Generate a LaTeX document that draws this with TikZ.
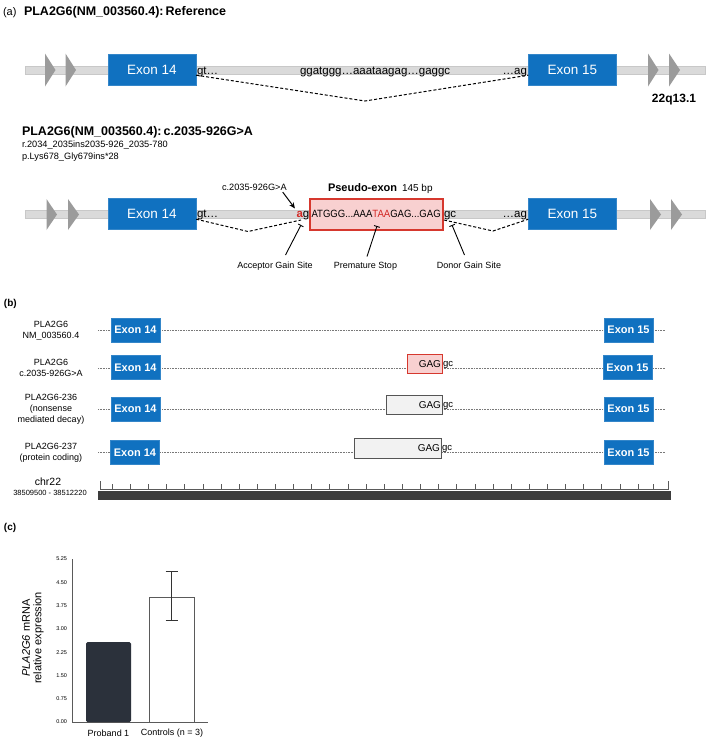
\documentclass[tikz,border=0pt]{standalone}
\usepackage{fontspec}
\setmainfont{Liberation Sans}
\usetikzlibrary{arrows.meta,calc}
\definecolor{exonblue}{RGB}{16,113,192}
\definecolor{bargray}{RGB}{218,218,218}
\definecolor{baredge}{RGB}{200,200,200}
\definecolor{trigray}{RGB}{155,155,155}
\definecolor{pinkfill}{RGB}{248,208,208}
\definecolor{redline}{RGB}{214,56,46}
\definecolor{redtext}{RGB}{210,40,36}
\definecolor{boxgray}{RGB}{242,242,242}
\definecolor{boxedge}{RGB}{85,85,85}
\definecolor{dotgray}{RGB}{120,120,120}
\definecolor{rulergray}{RGB}{90,90,90}
\definecolor{chrdark}{RGB}{60,60,60}
\definecolor{bardark}{RGB}{43,49,59}
\newcommand{\fz}[2]{\fontsize{#1}{#2}\selectfont}
\begin{document}
\begin{tikzpicture}[x=1pt,y=-1pt,
  txt/.style={inner sep=0pt,outer sep=0pt},
  exA/.style={fill=exonblue,draw=exonblue!85!white,text=white,minimum width=88pt,minimum height=31pt,inner sep=0pt,font=\fz{13.5}{16}},
  exB/.style={fill=exonblue,draw=exonblue!85!white,text=white,minimum width=49pt,minimum height=24pt,inner sep=0pt,font=\bfseries\fz{11}{13}},
  splice/.style={densely dashed,line width=1pt,dash pattern=on 3pt off 2pt},
  pinline/.style={line width=0.9pt,-{Bar[width=6pt,line width=0.9pt]}},
  mutarrow/.style={line width=1pt,-{Stealth[length=6pt,width=5pt]}},
  dotline/.style={dotgray,line width=0.9pt,dash pattern=on 0.8pt off 0.8pt},
  rowlbl/.style={txt,align=center,font=\fz{9}{11}},
  sitelbl/.style={txt,anchor=base,font=\fz{9}{11}},
  pbox/.style={inner sep=0pt,line width=1pt},
  tick/.style={rulergray,line width=0.8pt}
]
\useasboundingbox (0,0) rectangle (709,742);

% ================= Panel (a) top =================
\node[txt,anchor=base west,font=\fz{11}{13}] (lblA) at (3,15) {(a)};
\node[txt,anchor=base west,font=\bfseries\fz{12.5}{15}] (titleA) at (24,15) {PLA2G6(NM\_003560.4):\,Reference};

\fill[bargray] (25,66) rectangle (705,74);
\draw[baredge,line width=0.4pt] (25,66) rectangle (705,74);
\fill[trigray] (45,53.5) -- (55.5,70) -- (45,86.5) -- cycle;
\fill[trigray] (65.5,53.5) -- (76,70) -- (65.5,86.5) -- cycle;
\fill[trigray] (648,53.5) -- (658.5,70) -- (648,86.5) -- cycle;
\fill[trigray] (669,53.5) -- (680,70) -- (669,86.5) -- cycle;

\node[exA] (e14a) at (152,69.5) {Exon 14};
\node[exA] (e15a) at (572.5,69.5) {Exon 15};
\node[txt,anchor=base west,font=\fz{11.5}{14}] (gtA) at (197,74) {gt…};
\node[txt,anchor=base west,font=\fz{11.5}{14}] (seqA) at (300,74) {ggatggg…aaataagag…gaggc};
\node[txt,anchor=base east,font=\fz{11.5}{14}] (agA) at (527,74) {…ag};
\coordinate (vA) at (365,101);
\draw[splice] ($(e14a.south east)+(0,-10)$) -- (vA) -- ($(e15a.south west)+(0,-10)$);
\node[txt,anchor=base,font=\bfseries\fz{12}{14}] (locA) at (674,102.5) {22q13.1};

% ================= Panel (a) bottom =================
\node[txt,anchor=base west,font=\bfseries\fz{12.5}{15}] (titleB) at (22,135) {PLA2G6(NM\_003560.4):\,c.2035-926G>A};
\node[txt,anchor=base west,font=\fz{9.2}{10}] (rnaB) at (22,147.5) {r.2034\_2035ins2035-926\_2035-780};
\node[txt,anchor=base west,font=\fz{9.2}{10}] (protB) at (22,159.5) {p.Lys678\_Gly679ins*28};

\fill[bargray] (25,210) rectangle (705,218);
\draw[baredge,line width=0.4pt] (25,210) rectangle (705,218);
\fill[trigray] (46.5,199) -- (57,214.5) -- (46.5,230) -- cycle;
\fill[trigray] (68,199) -- (79,214.5) -- (68,230) -- cycle;
\fill[trigray] (650,199) -- (661,214.5) -- (650,230) -- cycle;
\fill[trigray] (671,199) -- (682,214.5) -- (671,230) -- cycle;

\node[exA] (e14b) at (152,213.5) {Exon 14};
\node[exA] (e15b) at (572.5,213.5) {Exon 15};
\node[pbox,draw=redline,fill=pinkfill,minimum width=133pt,minimum height=31pt,line width=1.2pt] (pse) at (376.5,214.5) {};
\node[txt,anchor=base west,font=\fz{11.5}{14}] (gtB) at (197,217.5) {gt…};
\node[txt,anchor=base west,font=\fz{11.5}{14}] (agSite) at (296.5,217.5) {\textcolor{redtext}{\textbf{a}}g};
\node[txt,anchor=base west,font=\fz{10.5}{12}] (pseTxt) at (311.5,217.5) {\scalebox{0.91}[1]{ATGGG...AAA\textcolor{redtext}{TAA}GAG...GAG}};
\node[txt,anchor=base west,font=\fz{11.5}{14}] (gcB) at (444,217.5) {gc};
\node[txt,anchor=base east,font=\fz{11.5}{14}] (agB) at (527,217.5) {…ag};
\node[txt,anchor=base west,font=\bfseries\fz{11}{13}] (pseLbl) at (328,191) {Pseudo-exon};
\node[txt,anchor=base west,font=\fz{10}{12}] (pseLen) at (402,191) {145 bp};
\node[txt,anchor=base west,font=\fz{9.2}{11}] (mutLbl) at (222,190) {c.2035-926G>A};
\coordinate (mutTip) at (295,208.5);
\draw[mutarrow] ([xshift=-4pt,yshift=-2pt]mutLbl.south east) -- (mutTip);

\coordinate (vB1) at (248,231.5);
\coordinate (accEnd) at (301,220);
\coordinate (donStart) at (444,220);
\coordinate (vB2) at (493,231);
\draw[splice] ($(e14b.south east)+(0,-10)$) -- (vB1) -- (accEnd);
\draw[splice] (donStart) -- (vB2) -- ($(e15b.south west)+(0,-10)$);

\node[sitelbl] (accLbl) at (275,268.3) {Acceptor Gain Site};
\node[sitelbl] (stopLbl) at (365.5,268.3) {Premature Stop};
\node[sitelbl] (donLbl) at (469,268.3) {Donor Gain Site};
\coordinate (accS) at (285.5,255);
\coordinate (accT) at (301,225);
\coordinate (stopS) at (367,256.5);
\coordinate (stopT) at (377,226);
\coordinate (donS) at (464.5,255);
\coordinate (donT) at (452,225);
\draw[pinline] (accS) -- (accT);
\draw[pinline] (stopS) -- (stopT);
\draw[pinline] (donS) -- (donT);

% ================= Panel (b) =================
\node[txt,anchor=base west,font=\bfseries\fz{10}{12}] (lblB) at (4,306.5) {(b)};

\foreach \yy in {330.7,368.7,409.3,452.7}{
  \draw[dotline] (98,\yy) -- (665,\yy);
}
\node[rowlbl] (r1) at (51,330.5) {PLA2G6\\NM\_003560.4};
\node[rowlbl] (r2) at (51,367.5) {PLA2G6\\c.2035-926G>A};
\node[rowlbl] (r3) at (51,409) {PLA2G6-236\\(nonsense\\mediated decay)};
\node[rowlbl] (r4) at (51,452.5) {PLA2G6-237\\(protein coding)};

\node[exB] (b14a) at (135.5,330) {Exon 14};
\node[exB] (b15a) at (628.5,330) {Exon 15};
\node[exB] (b14b) at (135.5,367.5) {Exon 14};
\node[exB] (b15b) at (627.5,367.5) {Exon 15};
\node[exB] (b14c) at (135.5,409) {Exon 14};
\node[exB] (b15c) at (628.5,409) {Exon 15};
\node[exB] (b14d) at (135,452.5) {Exon 14};
\node[exB] (b15d) at (628.5,452.5) {Exon 15};

\node[pbox,draw=redline,fill=pinkfill,minimum width=35pt,minimum height=19pt] (pb2) at (424.5,363.5) {};
\node[pbox,draw=boxedge,fill=boxgray,minimum width=56pt,minimum height=19pt] (pb3) at (414,404.5) {};
\node[pbox,draw=boxedge,fill=boxgray,minimum width=87pt,minimum height=20pt] (pb4) at (397.5,448) {};
\node[txt,anchor=base east,font=\fz{10}{12}] (g2) at (441,367.5) {GAG};
\node[txt,anchor=base east,font=\fz{10}{12}] (g3) at (441,408.5) {GAG};
\node[txt,anchor=base east,font=\fz{10}{12}] (g4) at (440,451.5) {GAG};
\node[txt,anchor=base west,font=\fz{9.5}{11}] (c2) at (443,366) {gc};
\node[txt,anchor=base west,font=\fz{9.5}{11}] (c3) at (443,407) {gc};
\node[txt,anchor=base west,font=\fz{9.5}{11}] (c4) at (442,450) {gc};

\node[txt,font=\fz{10.5}{12}] (chr) at (48,482) {chr22};
\node[txt,font=\fz{7.5}{8}] (chrpos) at (50,493) {38509500 - 38512220};
\draw[tick] (100,481) -- (100,489) -- (668,489) -- (668,481);
\foreach \k in {0,...,29}{
  \draw[tick] ({112.3+18.13*\k},484) -- ({112.3+18.13*\k},489);
}
\draw[tick] (653.7,484) -- (653.7,489);
\fill[chrdark] (98,491) rectangle (671,500);

% ================= Panel (c) =================
\node[txt,anchor=base west,font=\bfseries\fz{10}{12}] (lblC) at (4,530) {(c)};
\draw[rulergray,line width=0.8pt] (72,559) -- (72,722) -- (208,722);
\foreach \v [count=\k from 0] in {0.00,0.75,1.50,2.25,3.00,3.75,4.50,5.25}{
  \node[txt,anchor=east,font=\fz{5.5}{7}] at (67,{722-23.2857*\k}) {\v};
}
\fill[bardark,rounded corners=1.5pt] (86,722) rectangle (131,642);
\draw[fill=white,draw=rulergray,line width=0.8pt] (149,722) rectangle (194,597);
\draw[black!80,line width=1pt] (171.5,571) -- (171.5,620);
\draw[black!80,line width=1pt] (165.5,571) -- (177.5,571);
\draw[black!80,line width=1pt] (165.5,620) -- (177.5,620);
\node[txt,rotate=90,align=center,font=\fz{11}{11.5}] (ylab) at (33,638) {\textit{PLA2G6} mRNA\\relative expression};
\node[txt,font=\fz{9}{11}] (xl1) at (108.5,733) {Proband 1};
\node[txt,font=\fz{9}{11}] (xl2) at (172,733) {Controls (n = 3)};
\end{tikzpicture}
\end{document}
